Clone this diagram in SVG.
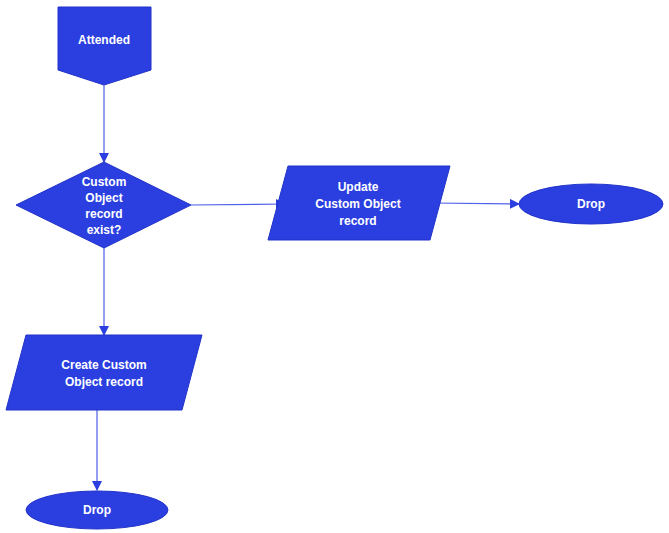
<svg xmlns="http://www.w3.org/2000/svg" width="669" height="533" viewBox="0 0 669 533">
<style>
.n{fill:#2b3fe0;stroke:#2233c8;stroke-width:1}
.t{fill:#fff;font-family:"Liberation Sans",Arial,sans-serif;font-size:12px;font-weight:bold;text-anchor:middle}
.c{stroke:#4d5ee8;stroke-width:1.2;fill:none;marker-end:url(#a)}
</style>
<defs><marker id="a" markerWidth="10" markerHeight="10" refX="9" refY="5" orient="auto" markerUnits="userSpaceOnUse"><path d="M0,0L10,5L0,10z" fill="#2b3fe0"/></marker></defs>
<rect width="669" height="533" fill="#fff"/>
<g id="connectors">
<path class="c" d="M104,85V162"/>
<path class="c" d="M191,205L285,204"/>
<path class="c" d="M432,203L519,204"/>
<path class="c" d="M104,248V335"/>
<path class="c" d="M97,410V490"/>
</g>
<g id="attended"><path class="n" d="M58,7H151V70L104,85L58,70Z"/><text class="t" x="104" y="44">Attended</text></g>
<g id="decision"><path class="n" d="M104,162L191,205L104,248L16,205Z"/><text class="t" x="104" y="186">Custom</text><text class="t" x="104" y="202">Object</text><text class="t" x="104" y="218">record</text><text class="t" x="104" y="234">exist?</text></g>
<g id="update"><path class="n" d="M288,166H450L430,240H268Z"/><text class="t" x="358" y="191">Update</text><text class="t" x="358" y="208">Custom Object</text><text class="t" x="358" y="225">record</text></g>
<g id="drop1"><ellipse class="n" cx="591" cy="204" rx="72" ry="20"/><text class="t" x="591" y="208">Drop</text></g>
<g id="create"><path class="n" d="M26,335H202L182,410H6Z"/><text class="t" x="104" y="369">Create Custom</text><text class="t" x="104" y="386">Object record</text></g>
<g id="drop2"><ellipse class="n" cx="97" cy="510" rx="71" ry="19"/><text class="t" x="97" y="514">Drop</text></g>
</svg>
